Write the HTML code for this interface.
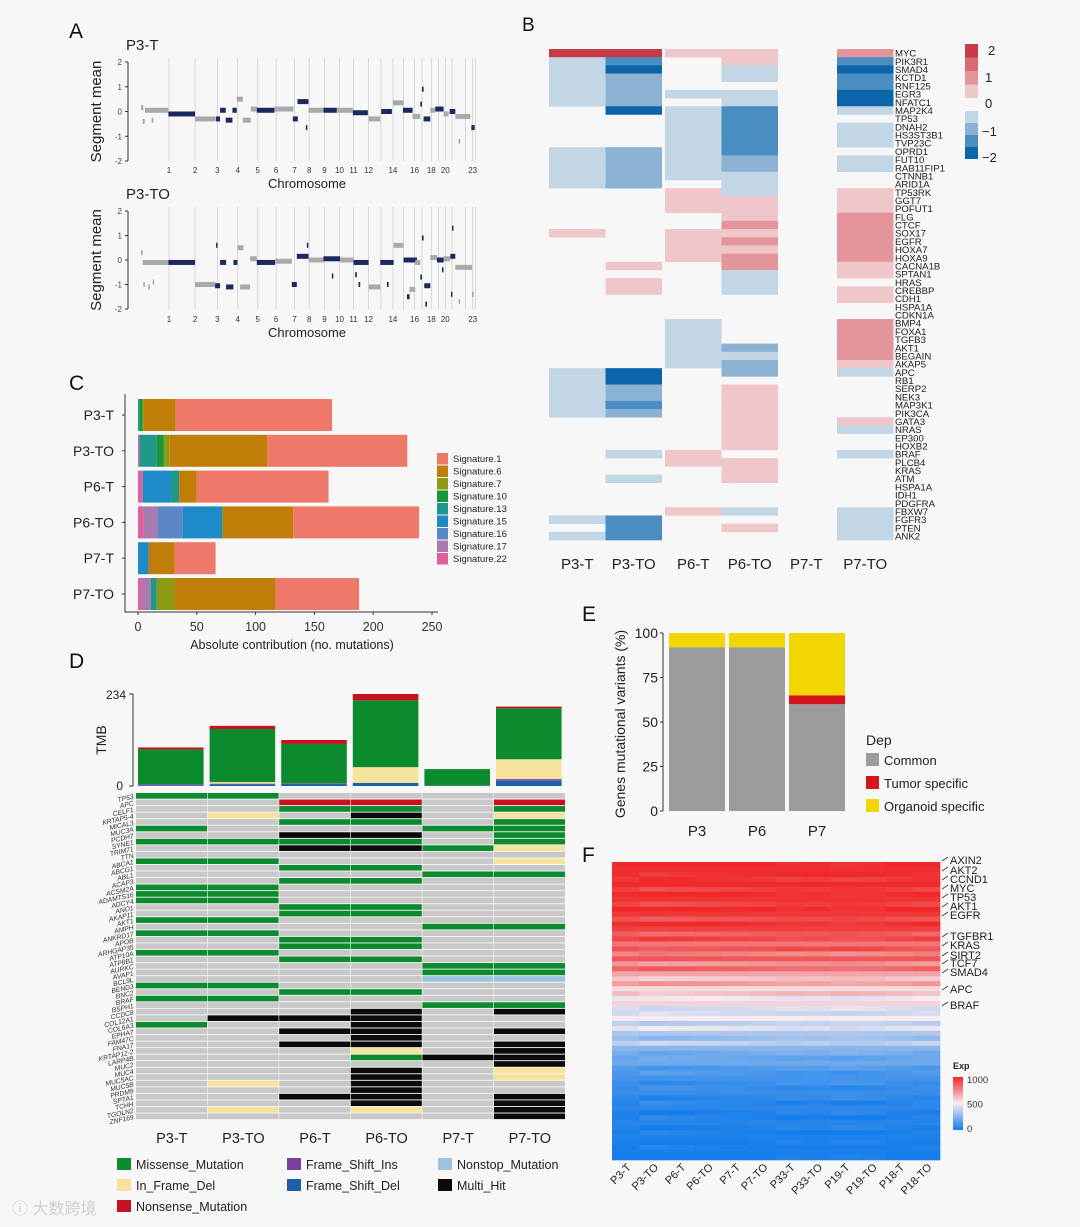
<!DOCTYPE html>
<html><head><meta charset="utf-8">
<style>
html,body{margin:0;padding:0;background:#f7f7f7;}
svg{display:block;font-family:"Liberation Sans",Arial,sans-serif;}
</style></head>
<body>
<svg id="fig" width="1080" height="1227" viewBox="0 0 1080 1227" xmlns="http://www.w3.org/2000/svg">
<rect x="0" y="0" width="1080" height="1227" fill="#f7f7f7"/>
<g id="A"></g>
<g id="B"></g>
<g id="C"></g>
<g id="D"></g>
<g id="E"></g>
<g id="F"></g>
<text x="12" y="1214" font-size="16" fill="#cfcfcf" font-family="'Liberation Sans','Noto Sans CJK SC',sans-serif">ⓘ 大数跨境</text>
</svg>
<script>
// ---------- DATA ----------
const cnvT = [[3,10,0.15,0],[15,85,0.05,0],[8,14,-0.4,0],[35,40,-0.35,0],[85,165,-0.1,1],[165,225,-0.3,0],[227,240,-0.3,1],[240,257,0.05,1],[257,277,-0.35,1],[277,290,0.05,1],[290,308,0.5,0],[308,332,-0.35,0],[332,350,0.1,0],[350,403,0.05,1],[403,460,0.1,0],[458,473,-0.3,1],[472,505,0.4,1],[497,500,-0.65,1],[505,550,0.05,0],[550,590,0.05,1],[590,638,0.05,0],[638,683,-0.05,1],[685,720,-0.3,0],[723,755,0,1],[758,790,0.35,0],[788,817,0.05,1],[817,840,-0.2,0],[840,845,0.3,1],[845,850,0.9,1],[850,870,-0.3,1],[870,885,0.05,0],[885,910,0.1,1],[910,925,-0.1,0],[928,945,0,1],[945,990,-0.2,0],[955,958,-1.2,0],[993,1003,-0.65,1]];
const cnvTO = [[3,8,0.3,0],[8,85,-0.1,0],[10,14,-1.0,0],[25,28,-1.1,0],[38,42,-0.9,0],[85,165,-0.1,1],[165,225,-1.0,0],[225,240,-1.05,1],[228,232,0.6,1],[240,258,-0.1,1],[258,280,-1.1,1],[280,292,-0.1,1],[292,310,0.5,0],[300,330,-1.1,0],[330,350,0.05,0],[350,405,-0.1,1],[405,455,-0.05,0],[455,470,-1.0,1],[470,505,0.15,1],[500,503,0.6,1],[505,550,0,0],[550,600,0.05,1],[575,578,-0.65,1],[600,640,0,0],[640,685,-0.1,1],[645,650,-0.6,1],[655,660,-1.0,1],[685,720,-1.1,0],[720,760,-0.1,1],[740,745,-1.0,1],[760,790,0.6,0],[790,830,0,1],[800,808,-1.5,1],[808,825,-1.2,0],[825,840,-0.1,0],[840,845,-0.7,1],[845,850,0.9,1],[852,870,-1.05,1],[855,860,-1.8,1],[870,890,0.1,0],[890,910,0,1],[905,908,-0.4,1],[910,930,0.05,0],[930,945,0.15,1],[935,938,1.3,1],[932,935,-1.4,1],[945,995,-0.3,0],[955,958,-1.7,0],[995,1000,-1.4,0]];
const chromLabels = ["1","2","3","4","5","6","7","8","9","10","11","12","14","16","18","20","23"];
const chromPos = [87,165,232,293,353,408,463,507,553,598,640,685,758,823,873,915,997];
const chromLines = [87,165,232,293,353,408,463,507,553,598,640,685,722,758,790,823,845,873,895,915,935,975,997,1005];
const aTicks = [2,1,0,-1,-2];

const bGenes = ["MYC","PIK3R1","SMAD4","KCTD1","RNF125","EGR3","NFATC1","MAP2K4","TP53","DNAH2","HS3ST3B1","TVP23C","OPRD1","FUT10","RAB11FIP1","CTNNB1","ARID1A","TP53RK","GGT7","POFUT1","FLG","CTCF","SOX17","EGFR","HOXA7","HOXA9","CACNA1B","SPTAN1","HRAS","CREBBP","CDH1","HSPA1A","CDKN1A","BMP4","FOXA1","TGFB3","AKT1","BEGAIN","AKAP5","APC","RB1","SERP2","NEK3","MAP3K1","PIK3CA","GATA3","NRAS","EP300","HOXB2","BRAF","PLCB4","KRAS","ATM","HSPA1A","IDH1","PDGFRA","FBXW7","FGFR3","PTEN","ANK2"];
const bSamples = ["P3-T","P3-TO","P6-T","P6-TO","P7-T","P7-TO"];
const bP3T  = "hdddddd.....ddddd.....e................dddddd............d.d";
const bP3TO = "hbacccca....ccccc.........e.ee.........aaccbc....d..d....bbb";
const bP6T  = "e....d.ddddddddd.eee..eeee.......dddddd..........ee.....e..";
const bP6TO = "eedd.ddbbbbbbccdddeeefefeffddd......cdcc.eeeeeeee.eee...d.e..";
const bP7T  = "............................................................";
const bP7TO = "fbabbaad.ddd.dd..eeeffffffee.ee..fffffed.....ed..d......ddddd";

const cSamples = ["P3-T","P3-TO","P6-T","P6-TO","P7-T","P7-TO"];
const cSigs = ["Signature.22","Signature.17","Signature.16","Signature.15","Signature.13","Signature.10","Signature.7","Signature.6","Signature.1"];
const cSig22 = [0,1,4,5,0,3];
const cSig17 = [0,0,0,12,0,8];
const cSig16 = [0,0,0,21,0,0];
const cSig15 = [0,0,24,33,9,0];
const cSig13 = [1,15,7,1,0,5];
const cSig10 = [3,6,0,0,0,0];
const cSig7  = [1,5,0,0,0,15];
const cSig6  = [27,83,15,60,22,86];
const cSig1  = [133,119,112,107,35,71];
const cTicks = [0,50,100,150,200,250];

const dSamples = ["P3-T","P3-TO","P6-T","P6-TO","P7-T","P7-TO"];
const tmbMissense = [88,135,100,170,42,130];
const tmbInFrame = [0,4,0,40,0,50];
const tmbFrameDel = [2,4,5,8,0,13];
const tmbNonsense = [5,8,10,16,0,4];
const tmbOther = [3,2,2,0,1,5];
const dGenes = ["TP53","APC","CELF1","KRTAP5-4","MICAL3","MUC3A","PCDH7","SYNE1","TRIM71","TTN","ABCA1","ABCG1","ABL1","ACAP3","ACSM2A","ADAMTS16","ADCY4","ANO1","AKAP11","AKT1","AMPH","ANKRD17","APOB","ARHGAP35","ATP10A","ATP8B1","AURKC","AVAP1","BCL9L","BEND3","BNC2","BRAF","BSPH1","CCDC8","COL12A1","COL6A3","EPHA7","FAM47C","FNA17","KRTAP12-2","LARP4B","MUC2","MUC4","MUC5AC","MUC5B","PRDM9","SPTA1","TCHH","TGOLN2","ZNF169"];
const dP3T  = "g....g.g..g...ggg..g.g..g....g.g...g..............";
const dP3TO = "g..y...g..g...ggg..g.g..g....g.g..k.........y...y";
const dP6T  = ".rg.g.kgk..g.g...gg...gg.g....g...k.k.k.......k...";
const dP6TO = ".rgkg.kgk..g.g...gg...gg.g....g..kkkkkkyg.kkkkkky.";
const dP7T  = ".....g..g...g.......g.....ggb...g.......k.........";
const dP7TO = ".rgyggggy.y.g.......g.....ggb...gk..k.kkkkyy..kkkk";

const eGroups = ["P3","P6","P7"];
const eCommon = [92,92,60];
const eTumor = [0,0,5];
const eOrganoid = [8,8,35];
const eTicks = [0,25,50,75,100];

const fSamples = ["P3-T","P3-TO","P6-T","P6-TO","P7-T","P7-TO","P33-T","P33-TO","P19-T","P19-TO","P18-T","P18-TO"];
const fProfile = [1000,980,990,960,1000,940,990,970,930,1000,960,900,980,940,860,920,800,900,760,880,720,840,680,600,700,540,620,480,560,440,420,500,380,460,340,300,380,260,220,180,200,140,120,100,90,70,80,60,40,50,30,20,40,30,10,20,10,0,10,0];
const fColShift = [0,-40,-30,-20,-10,0,20,10,30,20,0,-20];
const fGenes = ["AXIN2","AKT2","CCND1","MYC","TP53","AKT1","EGFR","TGFBR1","KRAS","SIRT2","TCF7","SMAD4","APC","BRAF"];
const fGeneY = [860,870,879,888,897,906,915,936,945,955,963,972,989,1005];
const fExpTicks = [1000,500,0];

// ---------- HELPERS ----------
const NS="http://www.w3.org/2000/svg";
function mk(parent, tag, attrs, txt){
  const e=document.createElementNS(NS,tag);
  for(const k in attrs) e.setAttribute(k,attrs[k]);
  if(txt!==undefined) e.textContent=txt;
  parent.appendChild(e); return e;
}
const gA=document.getElementById('A'),gB=document.getElementById('B'),gC=document.getElementById('C'),gD=document.getElementById('D'),gE=document.getElementById('E'),gF=document.getElementById('F');

// ---------- PANEL A ----------
let t=mk(gA,'text',{x:69,y:38,'font-size':21,fill:'#111'},'A');
 
function cnvPlot(segs, title, yTop, yBot, chromY){
  const x0=140,x1=477;
  const xs=v=>x0+(x1-x0)*v/1010;
  const ys=v=>yTop+(2-v)/4*(yBot-yTop);
  let e=mk(gA,'text',{x:126,y:yTop-12,'font-size':15,fill:'#222'},title);
   
  chromLines.forEach(c=>{
    e=mk(gA,'line',{x1:xs(c),x2:xs(c),y1:yTop-4,y2:yBot,stroke:'#d0d0d0','stroke-width':0.8});
     
  });
  e=mk(gA,'line',{x1:128,x2:128,y1:ys(2),y2:ys(-2),stroke:'#333','stroke-width':1});
   
  aTicks.forEach(v=>{
    e=mk(gA,'line',{x1:125,x2:128,y1:ys(v),y2:ys(v),stroke:'#333','stroke-width':1});
     
    e=mk(gA,'text',{x:122,y:ys(v)+3,'font-size':8,'text-anchor':'end',fill:'#444'},v<0?'-'+(-v):String(v));
     
  });
  e=mk(gA,'text',{x:0,y:0,'font-size':15,'text-anchor':'middle',fill:'#222',transform:`translate(101,${(yTop+yBot)/2}) rotate(-90)`},'Segment mean');
   
  segs.forEach(s=>{
    e=mk(gA,'rect',{x:xs(s[0]),y:ys(s[2])-2.5,width:Math.max(1.5,xs(s[1])-xs(s[0])),height:5,fill:s[3]?'#1b2a5e':'#a9a9a9'});
     
  });
  chromLabels.forEach((l,i)=>{
    e=mk(gA,'text',{x:xs(chromPos[i]),y:chromY,'font-size':8,'text-anchor':'middle',fill:'#333'},l);
     
  });
  e=mk(gA,'text',{x:307,y:chromY+15,'font-size':13,'text-anchor':'middle',fill:'#222'},'Chromosome');
   
}
cnvPlot(cnvT,'P3-T',62,161,173);
cnvPlot(cnvTO,'P3-TO',211,309,322);

// ---------- PANEL B ----------
t=mk(gB,'text',{x:522,y:31,'font-size':19,fill:'#111'},'B');
 
const bCols=[bP3T,bP3TO,bP6T,bP6TO,bP7T,bP7TO];
const bX=[549,605.5,665,721.5,778,837],bW=56.5,bTop=49,bH=491/60;
const bColor={a:'#0b65a8',b:'#4a8dc0',c:'#8cb2d3',d:'#c3d6e6',e:'#efc6ca',f:'#e4959b',g:'#d66b74',h:'#c63b46'};
bCols.forEach((col,ci)=>{
  for(let r=0;r<bGenes.length;r++){
    const ch=col[r]; if(!ch||ch==='.') continue;
    const e=mk(gB,'rect',{x:bX[ci],y:bTop+r*bH,width:bW,height:bH+0.3,fill:bColor[ch]});
     
  }
  const e=mk(gB,'text',{x:bX[ci]+bW/2,y:569,'font-size':15,'text-anchor':'middle',fill:'#222'},bSamples[ci]);
   
});
bGenes.forEach((g,i)=>{
  const e=mk(gB,'text',{x:895,y:bTop+i*bH+bH-0.5,'font-size':9.6,fill:'#222'},g);
   
});
['h','g','f','e'].forEach((c,i)=>{const e=mk(gB,'rect',{x:965,y:44+i*13.5,width:13,height:13.5,fill:bColor[c]});});
['d','c','b','a'].forEach((c,i)=>{const e=mk(gB,'rect',{x:965,y:111+i*12,width:13,height:12,fill:bColor[c]});});
[['2',988,55],['1',985,82],['0',985,108],['−1',982,136],['−2',982,162]].forEach(l=>{
  const e=mk(gB,'text',{x:l[1],y:l[2],'font-size':13,fill:'#222'},l[0]);
   
});

// ---------- PANEL C ----------
t=mk(gC,'text',{x:69,y:390,'font-size':21,fill:'#111'},'C');
 
const cData=[cSig22,cSig17,cSig16,cSig15,cSig13,cSig10,cSig7,cSig6,cSig1];
const cCol=['#e0609e','#a67bb0','#5b87c7','#1c8bc7','#1f978a','#18983a','#8c9a14','#c07e09','#ee786a'];
const cx=v=>138+v*(432-138)/250;
const cy=i=>415+i*35.8;
cSamples.forEach((s,i)=>{
  let acc=0;
  cData.forEach((arr,k)=>{
    const v=arr[i]; if(v<=0) return;
    const e=mk(gC,'rect',{x:cx(acc),y:cy(i)-16,width:cx(acc+v)-cx(acc),height:32,fill:cCol[k]});
     
    acc+=v;
  });
  let e=mk(gC,'text',{x:114,y:cy(i)+5,'font-size':14,'text-anchor':'end',fill:'#222'},s);
   
  e=mk(gC,'line',{x1:122,x2:125,y1:cy(i),y2:cy(i),stroke:'#333'});
   
});
t=mk(gC,'path',{d:'M125,394 V612 H438',fill:'none',stroke:'#333','stroke-width':1});
 
cTicks.forEach(v=>{
  let e=mk(gC,'line',{x1:cx(v),x2:cx(v),y1:612,y2:615,stroke:'#333'});
   
  e=mk(gC,'text',{x:cx(v),y:631,'font-size':12.5,'text-anchor':'middle',fill:'#333'},String(v));
   
});
t=mk(gC,'text',{x:292,y:649,'font-size':12.5,'text-anchor':'middle',fill:'#222'},'Absolute contribution (no. mutations)');
 
for(let k=8;k>=0;k--){
  const j=8-k;
  let e=mk(gC,'rect',{x:437,y:453+j*12.5,width:11,height:11.5,fill:cCol[k]});
   
  e=mk(gC,'text',{x:453,y:462+j*12.5,'font-size':9.5,fill:'#222'},cSigs[k]);
   
}

// ---------- PANEL D ----------
t=mk(gD,'text',{x:69,y:668,'font-size':21,fill:'#111'},'D');
 
const dX0=136,dCW=71.6;
const ty=v=>786-v*(786-694)/234;
t=mk(gD,'path',{d:'M129,694 H133 V786 H129',fill:'none',stroke:'#333'});
 
t=mk(gD,'text',{x:126,y:699,'font-size':12,'text-anchor':'end',fill:'#222'},'234');
 
t=mk(gD,'text',{x:123,y:790,'font-size':12,'text-anchor':'end',fill:'#222'},'0');
 
t=mk(gD,'text',{x:0,y:0,'font-size':14,'text-anchor':'middle',fill:'#222',transform:'translate(106,740) rotate(-90)'},'TMB');
 
const tmbStack=[[tmbFrameDel,'#1f5fa8'],[tmbOther,'#7a5aa0'],[tmbInFrame,'#f5e39c'],[tmbMissense,'#0b8a2e'],[tmbNonsense,'#c8101e']];
dSamples.forEach((s,i)=>{
  let acc=0;
  tmbStack.forEach(st=>{
    const v=st[0][i]; if(v<=0) return;
    const e=mk(gD,'rect',{x:dX0+i*dCW+2,y:ty(acc+v),width:dCW-6,height:ty(acc)-ty(acc+v),fill:st[1]});
     
    acc+=v;
  });
  const e=mk(gD,'text',{x:dX0+i*dCW+dCW/2,y:1143,'font-size':14.5,'text-anchor':'middle',fill:'#222'},s);
   
});
const dCols=[dP3T,dP3TO,dP6T,dP6TO,dP7T,dP7TO];
const dMap={g:'#0b8a2e',y:'#f5e39c',r:'#c8101e',k:'#0a0a0a',b:'#9fc3dd','.':'#c8c8c8'};
const dTop=793,dRH=327/50;
dCols.forEach((col,ci)=>{
  for(let r=0;r<dGenes.length;r++){
    const ch=col[r]||'.';
    const e=mk(gD,'rect',{x:dX0+ci*dCW,y:dTop+r*dRH,width:dCW-0.6,height:dRH-0.9,fill:dMap[ch]});
     
  }
});
dGenes.forEach((g,i)=>{
  const e=mk(gD,'text',{x:0,y:0,'font-size':6.8,'font-style':'italic','text-anchor':'end',fill:'#333',transform:`translate(134,${dTop+i*dRH+dRH-0.8}) rotate(-12)`},g);
   
});
const dLeg=[['Missense_Mutation','#0b8a2e',117,1169],['In_Frame_Del','#f5e39c',117,1190],['Nonsense_Mutation','#c8101e',117,1211],['Frame_Shift_Ins','#7a3fa0',287,1169],['Frame_Shift_Del','#1f5fa8',287,1190],['Nonstop_Mutation','#9fc3dd',438,1169],['Multi_Hit','#0a0a0a',438,1190]];
dLeg.forEach(l=>{
  let e=mk(gD,'rect',{x:l[2],y:l[3]-11,width:14,height:12,fill:l[1]});
   
  e=mk(gD,'text',{x:l[2]+19,y:l[3],'font-size':12.5,fill:'#222'},l[0]);
   
});

// ---------- PANEL E ----------
t=mk(gE,'text',{x:582,y:621,'font-size':21,fill:'#111'},'E');
 
const ey=v=>811-v*(811-633)/100;
t=mk(gE,'line',{x1:663,x2:663,y1:633,y2:811,stroke:'#333'});
 
eTicks.forEach(v=>{
  let e=mk(gE,'line',{x1:660,x2:663,y1:ey(v),y2:ey(v),stroke:'#333'});
   
  e=mk(gE,'text',{x:658,y:ey(v)+5,'font-size':14,'text-anchor':'end',fill:'#222'},String(v));
   
});
t=mk(gE,'text',{x:0,y:0,'font-size':14,'text-anchor':'middle',fill:'#222',transform:'translate(625,724) rotate(-90)'},'Genes mutational variants (%)');
 
const eX=[669,729,789];
eGroups.forEach((g,i)=>{
  let acc=0;
  [[eCommon,'#9b9b9b'],[eTumor,'#d7141c'],[eOrganoid,'#f2d600']].forEach(st=>{
    const v=st[0][i]; if(v<=0) return;
    const e=mk(gE,'rect',{x:eX[i],y:ey(acc+v),width:56,height:ey(acc)-ey(acc+v),fill:st[1]});
     
    acc+=v;
  });
  const e=mk(gE,'text',{x:eX[i]+28,y:836,'font-size':15,'text-anchor':'middle',fill:'#222'},g);
   
});
t=mk(gE,'text',{x:866,y:745,'font-size':14,fill:'#222'},'Dep');
 
[['Common','#9b9b9b',760],['Tumor specific','#d7141c',783],['Organoid specific','#f2d600',806]].forEach(l=>{
  let e=mk(gE,'rect',{x:866,y:l[2]-7,width:13,height:13,fill:l[1]});
   
  e=mk(gE,'text',{x:884,y:l[2]+5,'font-size':13,fill:'#222'},l[0]);
   
});

// ---------- PANEL F ----------
t=mk(gF,'text',{x:582,y:862,'font-size':21,fill:'#111'},'F');
 
function expColor(v){
  v=Math.max(0,Math.min(1000,v));
  let r,g,b;
  if(v>=500){const f=(v-500)/500; r=245+(240-245)*f; g=235+(40-235)*f; b=240+(40-240)*f;}
  else{const f=v/500; r=20+(245-20)*f; g=125+(235-125)*f; b=235+(240-235)*f;}
  return `rgb(${r|0},${g|0},${b|0})`;
}
const fX0=612,fX1=940,fY0=862,fY1=1160;
const fCW=(fX1-fX0)/fSamples.length;
const fRH=(fY1-fY0)/fProfile.length;
fProfile.forEach((v,r)=>{
  fSamples.forEach((s,c)=>{
    const val=v+fColShift[c]*((r%3)-1);
    const e=mk(gF,'rect',{x:fX0+c*fCW,y:fY0+r*fRH,width:fCW+0.3,height:fRH+0.3,fill:expColor(val)});
     
  });
});
fSamples.forEach((s,c)=>{
  const e=mk(gF,'text',{x:0,y:0,'font-size':11,'text-anchor':'end',fill:'#222',transform:`translate(${fX0+c*fCW+fCW/2+6},${fY1+8}) rotate(-45)`},s);
   
});
fGenes.forEach((g,i)=>{
  let e=mk(gF,'line',{x1:942,x2:948,y1:fGeneY[i]+1,y2:fGeneY[i]-3,stroke:'#333','stroke-width':0.8});
   
  e=mk(gF,'text',{x:950,y:fGeneY[i]+4,'font-size':11,fill:'#222'},g);
   
});
t=mk(gF,'text',{x:953,y:1069,'font-size':9,'font-weight':'bold',fill:'#222'},'Exp');
 
const defs=mk(document.getElementById('fig'),'defs',{});
const lg=mk(defs,'linearGradient',{id:'expg',x1:0,y1:0,x2:0,y2:1});
mk(lg,'stop',{offset:'0','stop-color':expColor(1000)});
mk(lg,'stop',{offset:'0.5','stop-color':expColor(500)});
mk(lg,'stop',{offset:'1','stop-color':expColor(0)});
t=mk(gF,'rect',{x:953,y:1077,width:10,height:53,fill:'url(#expg)'});
 
fExpTicks.forEach((v,i)=>{
  const e=mk(gF,'text',{x:967,y:1083+i*24.5,'font-size':9.5,fill:'#333'},String(v));
   
});
</script>
</body></html>
